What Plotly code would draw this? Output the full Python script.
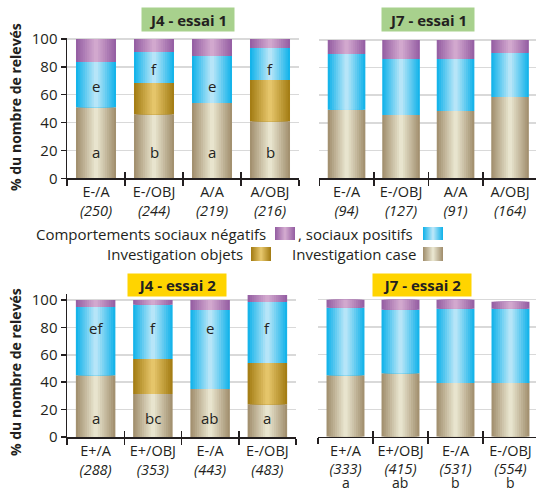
import numpy as np
import plotly.graph_objects as go

# ---------------- data ----------------
cats_essai1 = ["E-/A", "E-/OBJ", "A/A", "A/OBJ"]
cats_essai2 = ["E+/A", "E+/OBJ", "E-/A", "E-/OBJ"]

n_j4_e1 = [250, 244, 219, 216]
n_j7_e1 = [94, 127, 91, 164]
n_j4_e2 = [288, 353, 443, 483]
n_j7_e2 = [333, 415, 531, 554]

# % of records, stacked bottom -> top: case, objets, sociaux positifs, sociaux négatifs
case_j4_e1 = [51, 46, 54, 41]
obj_j4_e1 = [0, 22.4, 0, 29.6]
pos_j4_e1 = [32.5, 22.3, 33.8, 22.9]
neg_j4_e1 = [16.5, 9.3, 12.2, 6.5]

case_j7_e1 = [49.5, 45.6, 48.5, 58.7]
obj_j7_e1 = [0, 0, 0, 0]
pos_j7_e1 = [40.4, 40.6, 37.7, 31.9]
neg_j7_e1 = [10.1, 13.8, 13.8, 9.4]

case_j4_e2 = [45, 31.4, 35, 24]
obj_j4_e2 = [0, 25.6, 0, 30]
pos_j4_e2 = [49.9, 39.6, 57.7, 44.5]
neg_j4_e2 = [5.1, 3.4, 7.3, 5.1]

case_j7_e2 = [44.8, 46.3, 39.2, 39.2]
obj_j7_e2 = [0, 0, 0, 0]
pos_j7_e2 = [49.4, 46.4, 54.2, 54.2]
neg_j7_e2 = [5.8, 7.3, 6.6, 5.1]

letters_case_j4_e1 = ["a", "b", "a", "b"]
letters_pos_j4_e1 = ["e", "f", "e", "f"]
letters_case_j4_e2 = ["a", "bc", "ab", "a"]
letters_pos_j4_e2 = ["ef", "f", "e", "f"]
letters_below_j7_e2 = ["a", "ab", "b", "b"]

titles = ["J4 - essai 1", "J7 - essai 1", "J4 - essai 2", "J7 - essai 2"]
legend_labels = ["Comportements sociaux négatifs", ", sociaux positifs",
                 "Investigation objets", "Investigation case"]

# ---------------- style ----------------
W, H = 536, 491
FONT = "Open Sans"
DARK = "#231f20"
GRID = "#d9d9d9"
GRAD = {  # (edge colour, centre colour)
    "case": ((163, 145, 112), (232, 228, 206)),
    "obj": ((165, 126, 22), (229, 197, 106)),
    "pos": ((22, 180, 234), (182, 229, 248)),
    "neg": ((150, 96, 164), (210, 168, 206)),
}
NSTEP = 9
BW = 0.69


def mix(c1, c2, t):
    return "rgb(%d,%d,%d)" % tuple(round(a + (b - a) * t) for a, b in zip(c1, c2))


def px_x(p):
    return p / W


def px_y(p):
    return 1 - p / H


panels = [
    dict(cats=cats_essai1, n=n_j4_e1, segs=[case_j4_e1, obj_j4_e1, pos_j4_e1, neg_j4_e1],
         xdom=[67, 299], y0=178.3, scale=1.393, ytop=100.8, xend=3.5, yaxis_labels=True,
         title_box=(188, 19.5, 90, 21, "#a8d18d")),
    dict(cats=cats_essai1, n=n_j7_e1, segs=[case_j7_e1, obj_j7_e1, pos_j7_e1, neg_j7_e1],
         xdom=[319.3, 536], y0=178.0, scale=1.38, ytop=100.8, xend=3.476, yaxis_labels=False,
         title_box=(428, 20, 90, 21, "#a8d18d")),
    dict(cats=cats_essai2, n=n_j4_e2, segs=[case_j4_e2, obj_j4_e2, pos_j4_e2, neg_j4_e2],
         xdom=[67, 296], y0=437.0, scale=1.37, ytop=104.5, xend=3.5, yaxis_labels=True,
         title_box=(177, 285, 96, 20, "#ffd400")),
    dict(cats=cats_essai2, n=n_j7_e2, segs=[case_j7_e2, obj_j7_e2, pos_j7_e2, neg_j7_e2],
         xdom=[318, 536], y0=436.7, scale=1.37, ytop=104.5, xend=3.464, yaxis_labels=False,
         title_box=(422, 285, 96, 20, "#ffd400")),
]

fig = go.Figure()
layout = dict(
    template="none",
    width=W, height=H, margin=dict(l=0, r=0, t=0, b=0, pad=0, autoexpand=False),
    paper_bgcolor="white", plot_bgcolor="white", showlegend=False,
    barmode="overlay", font=dict(family=FONT, color=DARK, size=14),
)
annotations = []
shapes = []

for i, p in enumerate(panels, start=1):
    xa, ya = f"x{i}", f"y{i}"
    xo = f"x{i + 4}"
    cats = p["cats"]
    nb = len(cats)
    bottom = np.zeros(nb)
    for key, seg in zip(["case", "obj", "pos", "neg"], p["segs"]):
        seg = np.array(seg, dtype=float)
        edge, centre = GRAD[key]
        for k in range(NSTEP):
            fig.add_trace(go.Bar(
                x=cats, y=seg, base=bottom, width=BW * (1 - k / NSTEP),
                marker=dict(color=mix(edge, centre, k / (NSTEP - 1)), line=dict(width=0)),
                xaxis=xa, yaxis=ya, hoverinfo="skip",
            ))
        bottom = bottom + seg
    # invisible helper so the overlay axis (inner half of boundary ticks) renders
    bounds = [b - 0.5 for b in range(nb + 1)]
    fig.add_trace(go.Scatter(x=bounds, y=[0] * len(bounds), mode="markers",
                             marker=dict(opacity=0), xaxis=xo, yaxis=ya, hoverinfo="skip"))

    y_bot = px_y(p["y0"])
    y_top = px_y(p["y0"] - p["ytop"] * p["scale"])
    xdom = [px_x(p["xdom"][0]), min(1.0, px_x(p["xdom"][1]))]
    ticktext = [f"{c}<br><i>({n})</i>" for c, n in zip(cats, p["n"])]
    layout[f"xaxis{i}"] = dict(
        domain=xdom, anchor=ya, type="category", categoryarray=cats, automargin=False,
        range=[-0.5, p["xend"]], tickmode="array", tickvals=cats, ticktext=ticktext,
        tickangle=0,
        tickson="boundaries", ticks="outside", ticklen=6, tickwidth=1.5, tickcolor=DARK,
        showline=True, linecolor=DARK, linewidth=1.5, showgrid=False, zeroline=False,
        tickfont=dict(family=FONT, size=14.5, color=DARK), fixedrange=True,
    )
    layout[f"xaxis{i + 4}"] = dict(
        overlaying=xa, anchor=ya, type="linear", range=[-0.5, p["xend"]], automargin=False,
        tickmode="array", tickvals=bounds, ticks="inside", ticklen=6, tickwidth=1.5,
        tickcolor=DARK, showticklabels=False, showgrid=False, zeroline=False, showline=False,
    )
    layout[f"yaxis{i}"] = dict(
        domain=[y_bot, y_top], anchor=xa, range=[0, p["ytop"]], automargin=False,
        tickmode="array", tickvals=[0, 20, 40, 60, 80, 100],
        showgrid=True, gridcolor=GRID, gridwidth=1.5, zeroline=False,
        showline=p["yaxis_labels"], linecolor=DARK, linewidth=1.5,
        ticks="outside" if p["yaxis_labels"] else "", ticklen=5, tickwidth=1.5, tickcolor=DARK,
        showticklabels=p["yaxis_labels"], tickfont=dict(family=FONT, size=15, color=DARK),
        fixedrange=True,
    )
    cx, cy, bw, bh, bg = p["title_box"]
    annotations.append(dict(
        x=px_x(cx), y=px_y(cy), xref="paper", yref="paper", text=f"<b>{titles[i - 1]}</b>",
        showarrow=False, bgcolor=bg, width=bw, height=bh, xanchor="center", yanchor="middle",
        font=dict(family=FONT, size=15, color=DARK),
    ))

# letters inside / below bars
letter_sets = [
    (1, cats_essai1, letters_case_j4_e1, [19, 19, 19, 19]),
    (1, cats_essai1, letters_pos_j4_e1, [66, 78.5, 66.4, 78.5]),
    (3, cats_essai2, letters_case_j4_e2, [13.6] * 4),
    (3, cats_essai2, letters_pos_j4_e2, [79.6] * 4),
]
for i, cats, letters, ys in letter_sets:
    for c, t, yv in zip(cats, letters, ys):
        annotations.append(dict(x=c, y=yv, xref=f"x{i}", yref=f"y{i}", text=t, showarrow=False,
                                font=dict(family=FONT, size=15, color=DARK)))
for c, t in zip(cats_essai2, letters_below_j7_e2):
    annotations.append(dict(x=c, y=px_y(482), xref="x4", yref="paper", text=t, showarrow=False,
                            yanchor="middle",
                            font=dict(family=FONT, size=14, color=DARK)))

# y-axis titles
for cy in (107, 372):
    annotations.append(dict(x=px_x(15), y=px_y(cy), xref="paper", yref="paper",
                            text="<b>% du nombre de relevés</b>", textangle=-90, showarrow=False,
                            xanchor="center", yanchor="middle",
                            font=dict(family=FONT, size=14, color=DARK)))

# legend (text + gradient swatches)
leg_items = [
    (legend_labels[0], "right", 268, 233.5, "neg", (275, 227, 295, 240)),
    (legend_labels[1], "left", 296, 233.5, "pos", (423, 227, 443, 240)),
    (legend_labels[2], "right", 245, 253.5, "obj", (251, 247, 271, 261)),
    (legend_labels[3], "right", 418, 253.5, "case", (423, 247, 443, 261)),
]
for text, anchor, tx, ty, key, (x0, y0, x1, y1) in leg_items:
    annotations.append(dict(x=px_x(tx), y=px_y(ty), xref="paper", yref="paper", text=text,
                            showarrow=False, xanchor=anchor, yanchor="middle",
                            font=dict(family=FONT, size=15, color=DARK)))
    edge, centre = GRAD[key]
    half = (x1 - x0) / 2
    mid = (x0 + x1) / 2
    for k in range(NSTEP):
        hw = half * (1 - k / NSTEP)
        shapes.append(dict(type="rect", xref="paper", yref="paper",
                           x0=px_x(mid - hw), x1=px_x(mid + hw), y0=px_y(y1), y1=px_y(y0),
                           line=dict(width=0), fillcolor=mix(edge, centre, k / (NSTEP - 1))))

layout["annotations"] = annotations
layout["shapes"] = shapes
fig.update_layout(**layout)
fig.write_html(
    "out.html",
    config={"displayModeBar": False, "staticPlot": True},
    post_script="document.body.style.margin='0';document.body.style.overflow='hidden';",
)
